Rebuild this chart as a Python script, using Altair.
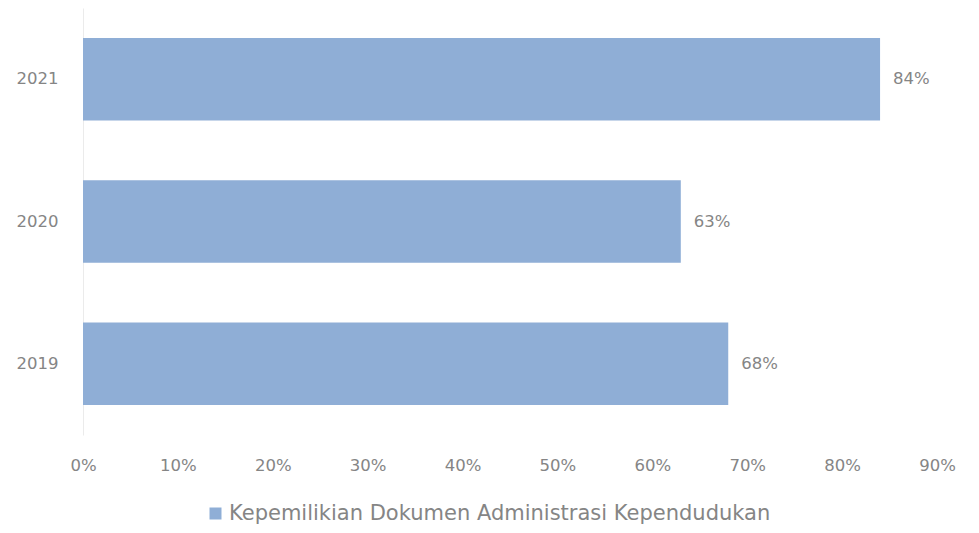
import altair as alt
import pandas as pd

years = ["2021", "2020", "2019"]
values = [0.84, 0.63, 0.68]
labels = ["84%", "63%", "68%"]
series = "Kepemilikian Dokumen Administrasi Kependudukan"

df = pd.DataFrame({"year": years, "value": values, "label": labels, "series": [series] * 3})

FONT = "DejaVu Sans"
GREY = "#858585"
BAR = "#8FAED6"

y_enc = alt.Y("year:N", sort=years, title=None,
              scale=alt.Scale(paddingInner=0.42, paddingOuter=0.21),
              axis=alt.Axis(ticks=False, domain=True, domainColor="#ebebeb", domainWidth=1,
                            labelPadding=25, labelFontSize=16.5, labelColor=GREY, labelFont=FONT))

x_enc = alt.X("value:Q", title=None,
              scale=alt.Scale(domain=[0, 0.9], nice=False),
              axis=alt.Axis(values=[i / 10 for i in range(10)], format=".0%", grid=False,
                            domain=False, ticks=False, labelPadding=22, labelFontSize=16.5,
                            labelFlush=False,
                            labelColor=GREY, labelFont=FONT))

bars = alt.Chart(df).mark_bar().encode(
    y=y_enc, x=x_enc,
    color=alt.Color("series:N", title=None,
                    scale=alt.Scale(domain=[series], range=[BAR]),
                    legend=alt.Legend(orient="none", legendX=122, legendY=495, symbolType="square",
                                      symbolSize=144, symbolStrokeWidth=0, labelFontSize=21,
                                      labelLimit=0, labelColor=GREY, labelFont=FONT,
                                      padding=0, labelOffset=3)),
)

text = alt.Chart(df).mark_text(align="left", baseline="middle", dx=13, fontSize=16.5,
                               color=GREY, font=FONT).encode(
    y=alt.Y("year:N", sort=years), x="value:Q", text="label:N")

chart = (bars + text).properties(
    width=854, height=427,
    autosize=alt.AutoSizeParams(type="none"),
    padding={"left": 75, "top": 0, "right": 34, "bottom": 90},
).configure(background="#ffffff").configure_view(stroke=None)

chart.save("out.html", embed_options={"renderer": "svg", "actions": False})
